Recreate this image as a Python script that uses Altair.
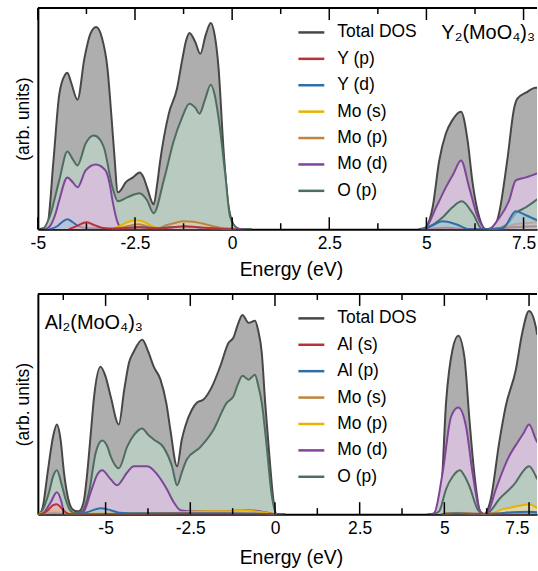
import altair as alt
import pandas as pd

FONT = "Liberation Sans"

# ---------------- Top panel: Y2(MoO4)3 ----------------
TOT_Y_E = [-5.0, -4.85, -4.75, -4.6, -4.45, -4.3, -4.24, -4.15, -3.98, -3.8, -3.65, -3.5, -3.35, -3.21, -3.1, -3.04,
           -2.94, -2.85, -2.74, -2.55, -2.38, -2.28, -2.19, -2.02, -1.93, -1.85, -1.63, -1.42, -1.29, -1.18, -1.10,
           -0.95, -0.82, -0.68, -0.55, -0.45, -0.35, -0.22, -0.09, 0.08, 0.2, 0.5, 4.8, 4.95, 5.16, 5.33, 5.50, 5.66,
           5.89, 6.06, 6.19, 6.36, 6.53, 6.70, 6.87, 7.08, 7.26, 7.34, 7.56, 7.81, 7.85]
TOT_Y_V = [0, 1, 5, 68, 135, 155, 157, 148, 130, 172, 196, 203, 192, 162, 110, 79,
           37, 40, 47, 52, 57, 52, 42, 25, 45, 69, 116, 141, 169, 190, 197,
           188, 176, 195, 207, 195, 162, 79, 22, 2, 0, 0, 0, 1, 22, 69, 96, 109,
           118, 89, 46, 12, 0, 0, 16, 69, 122, 131, 137, 142, 142]

O_Y_E = [-4.85, -4.7, -4.45, -4.24, -4.1, -3.98, -3.77, -3.56, -3.4, -3.30, -3.08, -2.94, -2.70, -2.38, -2.19, -2.02,
         -1.76, -1.50, -1.29, -1.10, -0.95, -0.84, -0.70, -0.55, -0.45, -0.35, -0.18, -0.05, 0.14, 0.25, 0.5, 4.9, 5.1,
         5.42, 5.67, 5.91, 6.19, 6.44, 6.87, 7.1, 7.30, 7.56, 7.85]
O_Y_V = [0, 12, 49, 78, 70, 64, 86, 94, 90, 82, 42, 28, 32, 36, 29, 16,
         49, 89, 112, 126, 122, 116, 130, 145, 135, 112, 56, 12, 1, 0, 0, 0, 3,
         12, 22, 28, 16, 0, 1, 6, 16, 22, 30]

MOD_Y_E = [-4.8, -4.69, -4.55, -4.45, -4.24, -4.1, -3.98, -3.77, -3.51, -3.26, -3.15, -3.08, -2.94, -2.83, -2.5, -1.5,
           0.0, 0.3, 4.85, 4.97, 5.25, 5.50, 5.70, 5.89, 6.10, 6.32, 6.53, 6.65, 6.83, 7.13, 7.30, 7.56, 7.85]
MOD_Y_V = [0, 3, 15, 29, 52, 47, 42, 59, 65, 59, 45, 29, 6, 0.5, 1, 1,
           0.5, 0, 0, 1, 22, 42, 56, 69, 42, 12, 0, 1, 9, 29, 49, 52, 56]

YP_E = [-4.2, -4.0, -3.85, -3.74, -3.6, -3.4, -3.2, -2.8, -2.4, -2.1, -1.9, -1.5, -1.2, -0.9, -0.5, -0.2, 0.1,
        5.0, 5.5, 6.1, 6.7, 7.2, 7.85]
YP_V = [0, 3, 6, 7, 5, 2, 0.5, 1, 2, 1, 0.5, 2, 3, 2, 1, 0.3, 0,
        0, 1.5, 0, 0, 2, 3]

YD_E = [-4.7, -4.5, -4.35, -4.24, -4.1, -3.95, -3.7, -3.4, -3.0, -2.6, -2.3, -2.0, -1.6, -1.2, -0.8, -0.4, 0.0,
        4.95, 5.16, 5.42, 5.76, 6.1, 6.6, 6.97, 7.30, 7.56, 7.85]
YD_V = [0, 3, 8, 10, 7, 3, 1, 1, 0.5, 1.5, 2, 1, 2, 2.5, 1.5, 0.5, 0,
        0, 4, 8, 5, 0, 0, 1, 18, 14, 9]

MOS_Y_E = [-3.1, -2.9, -2.7, -2.5, -2.35, -2.2, -2.0, -1.8, -1.4, -1.0, -0.6, -0.2, 0.1, 6.6, 7.0, 7.3, 7.6, 7.85]
MOS_Y_V = [0, 3, 7, 9, 8.5, 6, 2, 1, 1.5, 1.5, 1, 0.3, 0, 0, 1, 2.5, 3.5, 4]

MOP_Y_E = [-3.0, -2.7, -2.4, -2.1, -1.9, -1.7, -1.5, -1.25, -1.0, -0.8, -0.5, -0.25, 0.0, 6.7, 7.0, 7.3, 7.56, 7.85]
MOP_Y_V = [0, 3, 5, 2, 1, 4, 6, 8, 7.5, 6, 3, 1, 0, 0, 2, 5, 6, 7]

# ---------------- Bottom panel: Al2(MoO4)3 ----------------
TOT_AL_E = [-7.0, -6.96, -6.85, -6.71, -6.55, -6.44, -6.33, -6.23, -6.1, -5.98, -5.85, -5.79, -5.65, -5.54, -5.44,
            -5.34, -5.15, -5.0, -4.85, -4.61, -4.45, -4.31, -4.17, -3.92, -3.73, -3.58, -3.38, -3.2, -3.09, -2.89,
            -2.75, -2.65, -2.45, -2.30, -2.11, -1.86, -1.62, -1.37, -1.23, -1.1, -0.96, -0.78, -0.59, -0.5, -0.39,
            -0.29, -0.15, -0.05, 0.05, 0.3, 4.5, 4.66, 4.90, 5.05, 5.24, 5.41, 5.59, 5.74, 5.88, 6.08, 6.17, 6.37,
            6.62, 6.81, 7.11, 7.30, 7.50, 7.70, 7.74]
TOT_AL_V = [0, 0, 8, 42, 78, 90, 75, 42, 15, 5, 3, 3, 12, 42, 80,
            118, 148, 138, 118, 90, 125, 152, 163, 175, 162, 148, 135, 110, 85, 48,
            75, 88, 105, 112, 115, 128, 148, 172, 177, 190, 200, 192, 194, 185, 162,
            112, 52, 15, 0, 0, 0, 0, 22, 112, 165, 179, 158, 95, 42, 1, 0, 15,
            72, 108, 145, 182, 204, 188, 180]

O_AL_E = [-6.96, -6.85, -6.67, -6.55, -6.44, -6.3, -6.18, -6.05, -5.93, -5.7, -5.49, -5.29, -5.10, -4.95, -4.85,
          -4.61, -4.36, -4.15, -3.92, -3.75, -3.58, -3.29, -3.04, -2.89, -2.75, -2.60, -2.21, -1.81, -1.42, -1.23,
          -1.1, -0.96, -0.78, -0.59, -0.5, -0.39, -0.25, -0.1, 0.05, 0.3, 4.7, 4.85, 5.05, 5.25, 5.46, 5.6, 5.74,
          5.98, 6.17, 6.35, 6.62, 7.11, 7.30, 7.50, 7.70, 7.74]
O_AL_V = [0, 5, 22, 38, 44, 30, 15, 4, 1, 3, 22, 62, 74, 68, 58,
          46, 68, 80, 86, 80, 75, 67, 48, 29, 42, 55, 67, 85, 112, 118,
          130, 139, 135, 140, 130, 112, 70, 20, 0, 0, 0, 3, 25, 38, 44, 38, 28,
          5, 0, 3, 15, 32, 42, 48, 38, 35]

MOD_AL_E = [-6.9, -6.84, -6.62, -6.44, -6.3, -6.23, -6.1, -5.9, -5.66, -5.44, -5.24, -5.10, -4.85, -4.66, -4.36,
            -4.17, -3.77, -3.48, -3.19, -2.99, -2.79, -2.5, -1.5, -0.8, -0.3, 0.0, 0.2, 4.6, 4.7, 4.95, 5.20, 5.41,
            5.64, 5.83, 6.03, 6.17, 6.3, 6.52, 6.91, 7.16, 7.35, 7.50, 7.70, 7.74]
MOD_AL_V = [0, 1, 12, 22, 12, 2, 0, 0, 2, 22, 40, 44, 35, 29, 42,
            48, 48, 40, 25, 12, 4, 3, 3, 4, 2, 0, 0, 0, 1, 42, 98, 107,
            88, 42, 5, 0, 3, 25, 58, 72, 82, 90, 75, 72]

ALS_E = [-6.9, -6.7, -6.55, -6.44, -6.3, -6.15, -6.0, -5.5, -3.0, 0.0, 5.0, 7.0, 7.74]
ALS_V = [0, 4, 9, 10, 6, 1, 0, 0, 0.5, 0, 0.5, 0.5, 1]

ALP_E = [-7.0, -6.5, -6.0, -5.7, -5.45, -5.15, -4.85, -4.6, -4.3, -3.5, -2.5, -1.5, -0.5, 0.0, 4.9, 5.4, 6.0, 6.5,
         7.0, 7.5, 7.74]
ALP_V = [0, 1, 0, 0.5, 3, 6, 4, 1.5, 1, 1, 1, 1, 0.5, 0, 0, 1, 0, 0.5, 2, 2.5, 2]

MOS_AL_E = [-7.0, -6.5, -6.0, -4.0, -2.5, -1.5, -1.0, -0.5, 0.0, 5.0, 5.4, 6.0, 6.5, 7.5, 7.74]
MOS_AL_V = [0, 1, 0, 0.5, 1, 1.5, 1.5, 1, 0, 0, 1, 0, 0.5, 1.5, 1.5]

MOP_AL_E = [-7.0, -6.8, -6.44, -6.1, -5.9, -5.2, -4.5, -3.0, -2.7, -2.0, -1.3, -1.0, -0.6, -0.2, 0.05, 4.9, 5.4,
            6.0, 6.35, 6.72, 7.0, 7.30, 7.50, 7.70, 7.74]
MOP_AL_V = [0, 2, 3, 1, 0, 1.5, 1, 1, 2, 3, 3, 4, 3, 1, 0, 0, 1.5,
            0, 0, 5, 7, 9, 10, 7, 6]

MAJOR_TICKS = [-5, -2.5, 0, 2.5, 5, 7.5]
MINOR_TOP = [-3.75, -1.25, 1.25, 3.75, 6.25]
MINOR_BOT = [-6.25, -3.75, -1.25, 1.25, 3.75, 6.25]

# colours
C_TOT, F_TOT = "#474747", "#aeaeae"
C_O, F_O = "#4d6d5e", "#b9cbc1"
C_MOD, F_MOD = "#7e4598", "#d4c1d9"
C_RED, F_RED = "#b8323c", "#e6aeb2"
C_BLUE, F_BLUE = "#2f6ea6", "#a8c3dc"
C_YEL, F_YEL = "#e6b400", "#f6e0a0"
C_BRN, F_BRN = "#bf843c", "#e9d0aa"

TOP_SERIES = [  # legend order
    ("Total DOS", TOT_Y_E, TOT_Y_V, C_TOT, F_TOT, 1.0),
    ("Y (p)", YP_E, YP_V, C_RED, F_RED, 0.6),
    ("Y (d)", YD_E, YD_V, C_BLUE, F_BLUE, 0.6),
    ("Mo (s)", MOS_Y_E, MOS_Y_V, C_YEL, F_YEL, 0.6),
    ("Mo (p)", MOP_Y_E, MOP_Y_V, C_BRN, F_BRN, 0.6),
    ("Mo (d)", MOD_Y_E, MOD_Y_V, C_MOD, F_MOD, 1.0),
    ("O (p)", O_Y_E, O_Y_V, C_O, F_O, 1.0),
]
BOT_SERIES = [
    ("Total DOS", TOT_AL_E, TOT_AL_V, C_TOT, F_TOT, 1.0),
    ("Al (s)", ALS_E, ALS_V, C_RED, F_RED, 0.6),
    ("Al (p)", ALP_E, ALP_V, C_BLUE, F_BLUE, 0.6),
    ("Mo (s)", MOS_AL_E, MOS_AL_V, C_BRN, F_BRN, 0.6),
    ("Mo (p)", MOP_AL_E, MOP_AL_V, C_YEL, F_YEL, 0.6),
    ("Mo (d)", MOD_AL_E, MOD_AL_V, C_MOD, F_MOD, 1.0),
    ("O (p)", O_AL_E, O_AL_V, C_O, F_O, 1.0),
]
# drawing order: the smaller of O(p)/Mo(d) goes on top in each band
TOP_VB = ["Total DOS", "O (p)", "Mo (d)", "Mo (s)", "Mo (p)", "Y (d)", "Y (p)"]
TOP_CB = ["Total DOS", "Mo (d)", "O (p)", "Mo (s)", "Mo (p)", "Y (p)", "Y (d)"]
BOT_VB = ["Total DOS", "O (p)", "Mo (d)", "Mo (s)", "Mo (p)", "Al (p)", "Al (s)"]
BOT_CB = ["Total DOS", "Mo (d)", "O (p)", "Mo (s)", "Mo (p)", "Al (s)", "Al (p)"]
GAP = 2.5  # energy inside the band gap, used to split valence / conduction bands


def panel(series, vb_order, cb_order, xdom, width, height, ymax, minor, flush, title_pad,
          label, lab_x, lab_y, lab_align):
    names = [s[0] for s in series]
    cscale = alt.Scale(domain=names, range=[s[3] for s in series])
    xscale = alt.Scale(domain=xdom, nice=False, zero=False)
    yscale = alt.Scale(domain=[0, ymax], nice=False, zero=True)
    xaxis = alt.Axis(title="Energy (eV)", values=MAJOR_TICKS, labelExpr="toString(datum.value)",
                     ticks=False, tickSize=0, grid=False, domainColor="black", domainWidth=2,
                     labelFont=FONT, labelFontSize=17.5, labelColor="black", labelPadding=5,
                     labelFlush=flush, labelOverlap=False,
                     titleFont=FONT, titleFontSize=19.5, titleFontWeight="normal", titleColor="black",
                     titlePadding=title_pad, titleX=254)
    yaxis = alt.Axis(title="(arb. units)", labels=False, ticks=False, tickSize=0, grid=False,
                     domainColor="black", domainWidth=2, titleFont=FONT, titleFontSize=17.5,
                     titleFontWeight="normal", titleColor="black", titlePadding=5)
    legend = alt.Legend(orient="none", legendX=260, legendY=10, title=None, symbolType="stroke",
                        symbolSize=676, symbolStrokeWidth=2.5, labelFont=FONT, labelFontSize=17.5,
                        labelColor="black", labelOffset=11.5, rowPadding=3.5, padding=0)
    X = alt.X("E:Q", scale=xscale, axis=xaxis)
    Y = alt.Y("v:Q", scale=yscale, axis=yaxis)
    lookup = {s[0]: s for s in series}
    layers = []
    for order, band in ((vb_order, "vb"), (cb_order, "cb")):
        for nm in order:
            _, E, V, lc, fc, fo = lookup[nm]
            df = pd.DataFrame({"E": E, "v": V, "series": nm})
            df = df[df.E < GAP] if band == "vb" else df[df.E > GAP]
            base = alt.Chart(df)
            layers.append(base.mark_area(interpolate="monotone", fill=fc, fillOpacity=fo, clip=True)
                          .encode(x=X, y=Y))
            layers.append(base.mark_line(interpolate="monotone", strokeWidth=2, clip=True)
                          .encode(x=X, y=Y, color=alt.Color("series:N", scale=cscale, legend=legend)))
    XT = alt.X("t:Q", scale=xscale, axis=xaxis)
    for vals, ln in ((MAJOR_TICKS, 12), (minor, 6)):
        tdf = pd.DataFrame({"t": vals})
        layers.append(alt.Chart(tdf).mark_rule(color="black", strokeWidth=1.5)
                      .encode(x=XT, y=alt.value(height), y2=alt.value(height - ln)))
        layers.append(alt.Chart(tdf).mark_rule(color="black", strokeWidth=1.5)
                      .encode(x=XT, y=alt.value(0), y2=alt.value(ln)))
    layers.append(alt.Chart(pd.DataFrame({"a": [0]})).mark_rule(color="black", strokeWidth=2)
                  .encode(x=alt.value(0), x2=alt.value(width), y=alt.value(0)))
    layers.append(alt.Chart(pd.DataFrame({"label": [label]}))
                  .mark_text(font=FONT, fontSize=20, color="black", align=lab_align, baseline="middle")
                  .encode(x=alt.value(lab_x), y=alt.value(lab_y), text="label:N"))
    return alt.layer(*layers).properties(width=width, height=height)


top = panel(TOP_SERIES, TOP_VB, TOP_CB, [-5, 7.846], 501, 222, 222, MINOR_TOP, False, 9,
            "Y₂(MoO₄)₃", 499, 25, "right")
bot = panel(BOT_SERIES, BOT_VB, BOT_CB, [-7, 7.735], 501, 221, 221, MINOR_BOT, 10, 12,
            "Al₂(MoO₄)₃", 7, 29, "left")

chart = (alt.vconcat(top, bot, spacing=14)
         .resolve_scale(color="independent")
         .properties(padding={"left": 15, "top": 6, "right": 0, "bottom": 0}, background="white")
         .configure_view(stroke=None))

chart.save("out.html", embed_options={"renderer": "svg", "actions": False})
